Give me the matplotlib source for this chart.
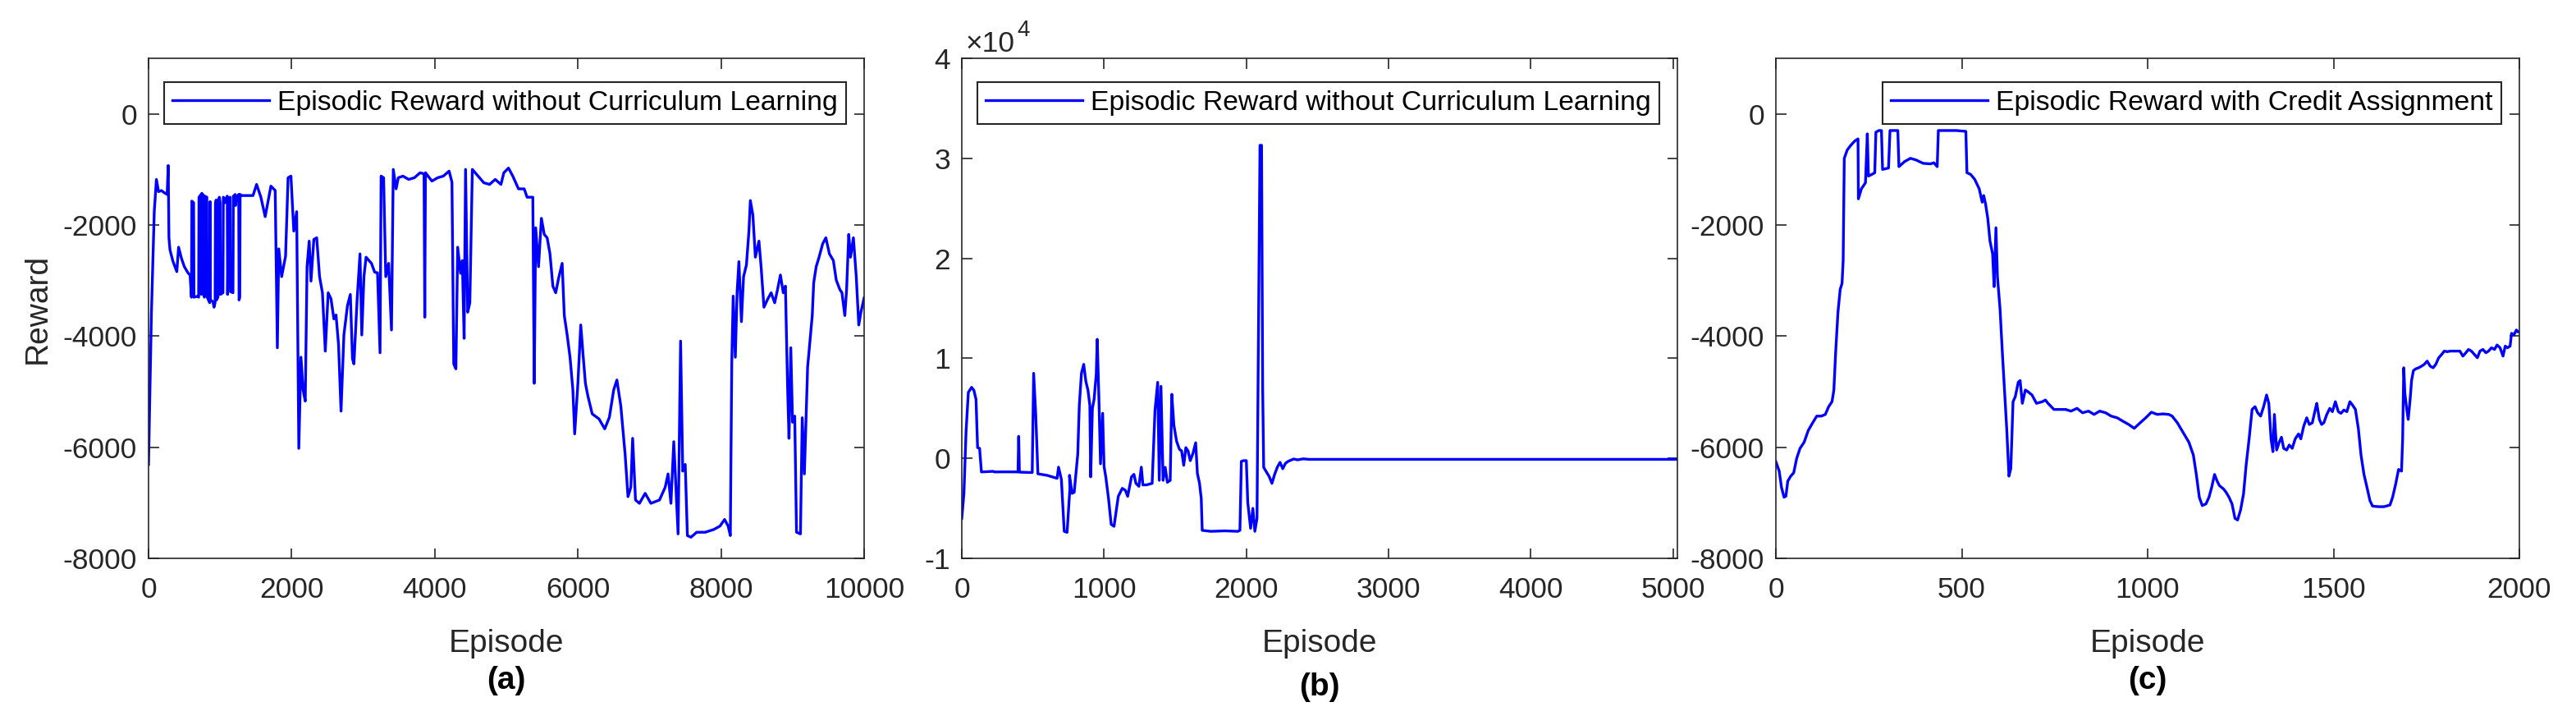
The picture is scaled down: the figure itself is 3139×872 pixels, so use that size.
import matplotlib
matplotlib.use("Agg")
import matplotlib.pyplot as plt

plt.rcParams["font.family"] = ["Liberation Sans", "DejaVu Sans"]
plt.rcParams["axes.unicode_minus"] = False

OUT_PATH = "out.png"
TEXT_COLOR = "#262626"
LINE_COLOR = "#0000ff"

# (a) episodic reward without curriculum learning, 10000 episodes
ep_a = [0, 40, 80, 110, 140, 180, 220, 260, 275, 285, 300, 340, 395, 420, 460, 500, 555,
        580, 600, 605, 630, 635, 690, 700, 705, 735, 740, 745, 775, 780, 785, 815, 820,
        855, 860, 865, 900, 915, 930, 935, 945, 950, 970, 975, 990, 1000, 1005, 1040,
        1045, 1060, 1065, 1100, 1105, 1120, 1140, 1145, 1180, 1185, 1200, 1210, 1215,
        1230, 1260, 1265, 1275, 1280, 1300, 1380, 1460, 1510, 1570, 1630, 1710, 1770,
        1800, 1820, 1860, 1915, 1950, 1990, 2030, 2070, 2100, 2130, 2160, 2190, 2215,
        2245, 2270, 2310, 2350, 2390, 2430, 2470, 2510, 2550, 2590, 2620, 2655, 2690,
        2730, 2780, 2820, 2850, 2870, 2915, 2955, 2980, 3010, 3040, 3115, 3160, 3200,
        3235, 3250, 3285, 3315, 3355, 3395, 3420, 3460, 3490, 3555, 3635, 3715, 3795,
        3850, 3860, 3870, 3960, 4040, 4120, 4200, 4240, 4265, 4295, 4320, 4360, 4385,
        4410, 4430, 4460, 4490, 4525, 4605, 4685, 4765, 4845, 4925, 4965, 5030, 5090,
        5170, 5250, 5290, 5370, 5390, 5410, 5450, 5490, 5530, 5570, 5610, 5650, 5690,
        5730, 5780, 5810, 5850, 5890, 5930, 5955, 6000, 6040, 6075, 6105, 6140, 6200,
        6295, 6375, 6440, 6500, 6545, 6600, 6660, 6700, 6740, 6765, 6805, 6860, 6940,
        7020, 7140, 7220, 7260, 7300, 7340, 7370, 7400, 7435, 7465, 7500, 7530, 7580,
        7660, 7780, 7900, 7985, 8050, 8100, 8130, 8150, 8170, 8200, 8225, 8250, 8285,
        8315, 8355, 8390, 8410, 8445, 8480, 8530, 8560, 8600, 8650, 8700, 8750, 8790,
        8830, 8870, 8900, 8930, 8950, 8975, 9000, 9030, 9055, 9110, 9135, 9165, 9210,
        9250, 9275, 9295, 9330, 9370, 9420, 9465, 9515, 9570, 9610, 9660, 9690, 9730,
        9755, 9785, 9810, 9850, 9890, 9925, 9955, 10000]
rew_a = [-6310, -3600, -1760, -1180, -1400, -1380, -1420, -1450, -930, -2230, -2450,
         -2650, -2840, -2400, -2600, -2750, -2870,
         -2900, -3300, -1570, -1600, -3300, -3280, -3300, -1500, -1450, -3250, -1430,
         -1480, -3300, -1480, -1500, -3300, -3400, -1580, -3350, -3380, -3480, -3400,
         -1620, -1550, -3350, -3300, -1560, -1500, -1600, -3250, -3220, -1500, -1520,
         -1600, -1480, -3250, -1550, -1500, -3200, -3220, -1480, -1470, -1450, -1650,
         -1500, -1450, -3350, -3300, -1450, -1470, -1470, -1470, -1270, -1500, -1850,
         -1300, -1380, -4210, -2430, -2930, -2560, -1150, -1120, -2110, -1760, -6020,
         -4380, -4970, -5170, -2750, -2290, -3010, -2260, -2230, -2930, -3220, -4270,
         -3220, -3330, -3690, -3620, -4150, -5350, -3980, -3450, -3250, -4410, -4500,
         -3340, -2520, -3980, -2930, -2580, -2690, -2850, -2860, -4300, -1120, -1150,
         -2930, -2690, -3890, -1000, -1350, -1150, -1120, -1180, -1150, -1060, -1080,
         -3660, -1060, -1210, -1150, -1120, -1030, -1230, -4500, -4590, -2400, -2870,
         -2640, -4040, -1000, -3570, -3400, -1000, -1120, -1240, -1270, -1180, -1270,
         -1060, -975, -1120, -1350, -1350, -1500, -1500, -4850, -2050, -2750, -1880,
         -2170, -2230, -2520, -3100, -3220, -2960, -2690, -3630, -3980, -4380, -4970,
         -5760, -4850, -3800, -4380, -4850, -5080, -5400, -5490, -5670, -5460, -4970,
         -4790, -5260, -6130, -6890, -6720, -5840, -6950, -7010, -6830, -7010, -6950,
         -6720, -6480, -7010, -5900, -6720, -7560, -4090, -6430, -6310, -7590, -7620,
         -7530, -7530, -7480, -7420, -7300, -7420, -7590, -4500, -3280, -4380, -3200,
         -2660, -3740, -2930, -2720, -2110, -1560, -1820, -2580, -2290, -2750, -3480,
         -3340, -3220, -3400, -3160, -2900, -3220, -3100, -4910, -5840, -4210, -5550,
         -5440, -7530, -7560, -5470, -6480, -4560, -3980, -3630, -3040, -2750, -2580,
         -2340, -2230, -2520, -2640, -2990, -3160, -3220, -3630, -3160, -2170, -2580,
         -2230, -2930, -3800, -3570, -3310]

# (b) episodic reward without curriculum learning, 5000 episodes
ep_b = [0, 15, 30, 46, 69, 85, 100, 111, 125, 138, 220, 230, 300, 395, 400, 405, 495,
        505, 520, 535, 600, 670, 680, 700, 720, 740, 760, 757, 775, 790, 815, 826, 841,
        857, 872, 887, 900, 906, 918, 930, 945, 952, 964, 975, 990, 1000, 1013, 1032,
        1050, 1070, 1100, 1128, 1150, 1166, 1193, 1210, 1224, 1245, 1262, 1273, 1300,
        1338, 1358, 1377, 1388, 1400, 1415, 1430, 1445, 1465, 1476, 1491, 1510, 1530,
        1545, 1560, 1575, 1590, 1606, 1625, 1644, 1656, 1671, 1683, 1690, 1750, 1850,
        1940, 1955, 1965, 1980, 2000, 2010, 2030, 2046, 2060, 2075, 2084, 2096, 2107,
        2115, 2122, 2141, 2160, 2180, 2199, 2218, 2237, 2256, 2275, 2294, 2333, 2360,
        2400, 2440, 3000, 4000, 5030]
rew_b = [-6000, -3500, 2700, 6600, 7100, 6800, 5900, 1070, 1000, -1360, -1300, -1360,
         -1350, -1360, 2200, -1380, -1420, 8500, 4300, -1550, -1700, -2000, -880,
         -2100, -7300, -7400, -3000, -1700, -3500, -3400, 400, 5300, 8500, 9400, 7700,
         6800, 5300, -1850, 5000, 5900, 8400, 11900, 5900, -550, 4500, -800, -1950,
         -4100, -6600, -6800, -3800, -3000, -3200, -3800, -1850, -1600, -2500, -2800,
         -880, -2660, -2650, -2500, 4800, 7600, -2200, 7200, -2200, -900, -2400, -2200,
         6400, 3300, 1700, 900, 750, -700, 1070, 750, -230, 500, 1560, -1500, -2500,
         -4000, -7200, -7300, -7250, -7300, -7200, -300, -230, -230, -4400, -7000,
         -5000, -7300, -6000, 10200, 31300, 31300, 6900, -900, -1360, -1800, -2500,
         -1600, -880, -400, -1040, -500, -300, -65, -150, -50, -100, -100, -100, -100]

# (c) episodic reward with credit assignment, 2000 episodes
ep_c = [0, 9, 15, 22, 27, 32, 40, 48, 56, 65, 76, 87, 99, 110, 122, 133, 142, 151, 156,
        161, 167, 173, 178, 181, 184, 192, 201, 212, 221, 222, 230, 241, 246, 249, 258,
        266, 269, 277, 284, 287, 303, 307, 328, 331, 346, 362, 377, 396, 416, 425, 434,
        437, 462, 485, 511, 514, 524, 535, 547, 555, 559, 564, 570, 576, 583, 587, 592,
        596, 603, 609, 615, 621, 627, 632, 638, 644, 652, 657, 663, 671, 678, 689, 701,
        717, 725, 732, 748, 763, 779, 794, 810, 825, 841, 856, 871, 887, 902, 918, 933,
        949, 964, 980, 995, 1010, 1026, 1041, 1057, 1066, 1080, 1095, 1111, 1123, 1131,
        1139, 1147, 1157, 1165, 1172, 1180, 1187, 1193, 1204, 1211, 1219, 1227, 1235,
        1242, 1250, 1258, 1265, 1273, 1281, 1289, 1296, 1304, 1312, 1320, 1326, 1332,
        1337, 1341, 1347, 1354, 1360, 1366, 1374, 1381, 1389, 1397, 1406, 1412, 1420,
        1428, 1435, 1443, 1451, 1455, 1462, 1468, 1474, 1482, 1490, 1497, 1505, 1513,
        1520, 1528, 1536, 1544, 1551, 1559, 1567, 1574, 1582, 1590, 1598, 1605, 1621,
        1636, 1652, 1659, 1667, 1675, 1683, 1686, 1689, 1692, 1697, 1701, 1706, 1710,
        1715, 1721, 1729, 1737, 1744, 1752, 1760, 1768, 1775, 1783, 1791, 1798, 1806,
        1814, 1821, 1829, 1840, 1848, 1856, 1863, 1871, 1879, 1887, 1894, 1902, 1910,
        1917, 1925, 1933, 1940, 1948, 1956, 1962, 1968, 1975, 1979, 1985, 1992, 1996]
rew_c = [-6260, -6430, -6720, -6900, -6880, -6610, -6520, -6460, -6200, -6020, -5910,
         -5700, -5560, -5440, -5440, -5410, -5270, -5180, -4970, -4270, -3570, -3160,
         -3050, -2640, -800, -650, -570, -490, -450, -1530, -1350, -1240, -360, -1120,
         -1090, -1060, -330, -300, -300, -1000, -975, -300, -300, -950, -860, -800, -830,
         -890, -900, -880, -950, -300, -300, -300, -315, -1060, -1090, -1180, -1350,
         -1590, -1470, -1620, -1880, -2290, -2520, -3110, -2050, -2930, -3510, -4270,
         -4970, -5670, -6520, -6380, -5180, -5090, -4830, -4800, -5210, -4970, -5000,
         -5060, -5210, -5180, -5150, -5210, -5320, -5320, -5320, -5350, -5300, -5380,
         -5350, -5410, -5350, -5380, -5440, -5470, -5530, -5590, -5660, -5560, -5470,
         -5370, -5410, -5400, -5410, -5440, -5560, -5730, -5910, -6140, -6490, -6900,
         -7050, -7020, -6900, -6730, -6490, -6610, -6690, -6750, -6810, -6900, -7020,
         -7280, -7310, -7130, -6840, -6320, -5850, -5320, -5270, -5380, -5440, -5270,
         -5060, -5210, -5850, -6080, -5410, -6050, -5910, -5820, -6020, -6050, -5960,
         -6020, -5850, -5760, -5850, -5620, -5470, -5590, -5560, -5320, -5210, -5500,
         -5590, -5560, -5410, -5300, -5360, -5180, -5360, -5390, -5330, -5360, -5180,
         -5240, -5320, -5670, -6140, -6490, -6720, -6960, -7060, -7070, -7070, -7040,
         -6900, -6670, -6400, -6430, -5850, -4570, -5030, -5320, -5500, -5150, -4800,
         -4620, -4590, -4570, -4540, -4510, -4450, -4540, -4570, -4510, -4390, -4330,
         -4270, -4280, -4270, -4270, -4270, -4270, -4360, -4300, -4240, -4270, -4330,
         -4390, -4270, -4240, -4300, -4270, -4210, -4240, -4160, -4210, -4360, -4180,
         -4210, -4180, -3950, -3980, -3890, -3920]

# panel (b) ticks are shown in units of 1e4
B_SCALE = 10000
yt_b = [-1, 0, 1, 2, 3, 4]

panels = [
    (ep_a, rew_a, (0, 10000), list(range(0, 10001, 2000)), (-8000, 1000),
     list(range(-8000, 1, 2000)), None, "Episodic Reward without Curriculum Learning", "(a)"),
    (ep_b, rew_b, (0, 5030), list(range(0, 5001, 1000)), (-1 * B_SCALE, 4 * B_SCALE),
     [v * B_SCALE for v in yt_b], [str(v) for v in yt_b],
     "Episodic Reward without Curriculum Learning", "(b)"),
    (ep_c, rew_c, (0, 2000), list(range(0, 2001, 500)), (-8000, 1000),
     list(range(-8000, 1, 2000)), None, "Episodic Reward with Credit Assignment", "(c)"),
]

W, H = 3139, 872
fig = plt.figure(figsize=(W / 100, H / 100), dpi=100)
boxes = [(181, 1053), (1172, 2044), (2164, 3070)]
top_px, bottom_px = 71, 680

for i, ((x0, x1), (ep, rew, xlim, xt, ylim, yt, ytl, name, tag)) in enumerate(zip(boxes, panels)):
    ax = fig.add_axes([x0 / W, 1 - bottom_px / H, (x1 - x0) / W, (bottom_px - top_px) / H])
    ax_w = x1 - x0
    ax_h = bottom_px - top_px
    ax.plot(ep, rew, color=LINE_COLOR, lw=2.4, label=name)
    ax.set_xlim(*xlim)
    ax.set_ylim(*ylim)
    ax.set_xticks(xt)
    ax.set_yticks(yt)
    if ytl is not None:
        ax.set_yticklabels(ytl)
        # exponent marker above the y axis, drawn as plain text
        ax.text(5 / ax_w, 1 + 8 / ax_h, "\u00d710", transform=ax.transAxes,
                ha="left", va="baseline", fontsize=25.5, color=TEXT_COLOR)
        ax.text(67 / ax_w, 1 + 27 / ax_h, "4", transform=ax.transAxes,
                ha="left", va="baseline", fontsize=20, color=TEXT_COLOR)
    ax.tick_params(direction="in", top=True, right=True, length=9, width=1.2,
                   labelsize=25.5, colors=TEXT_COLOR)
    ax.tick_params(axis="x", pad=16)
    ax.tick_params(axis="y", pad=10)
    for sp in ax.spines.values():
        sp.set_color(TEXT_COLOR)
        sp.set_linewidth(1.2)
    ax.set_xlabel("Episode", fontsize=28, color=TEXT_COLOR, labelpad=22)
    if i == 0:
        ax.set_ylabel("Reward", fontsize=28, color=TEXT_COLOR, labelpad=9)
    leg = ax.legend(loc="upper right",
                    bbox_to_anchor=(1 - 22 / ax_w, 1 - 29 / ax_h),
                    borderaxespad=0, fontsize=24.3, frameon=True, fancybox=False,
                    framealpha=1, edgecolor=TEXT_COLOR, handlelength=3.5,
                    handletextpad=0.3, borderpad=0.3)
    leg.get_frame().set_linewidth(1.5)
    tag_y = -0.245 if i != 1 else -0.257
    ax.text(0.5, tag_y, tag, transform=ax.transAxes, ha="center", va="center",
            fontsize=28, fontweight="bold", color="black")

fig.savefig(OUT_PATH, dpi=100)
plt.close(fig)
